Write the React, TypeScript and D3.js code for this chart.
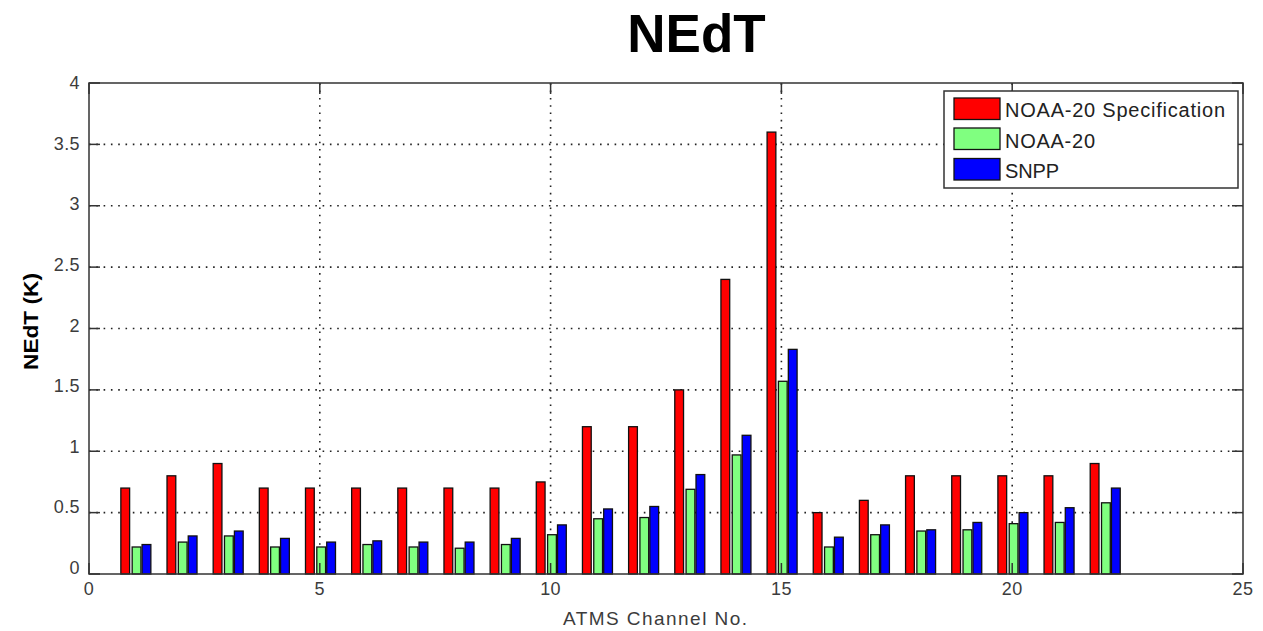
import React from "react";
import * as d3 from "d3";

// ATMS channel numbers and NEdT values (K)
const channels: number[] = [1, 2, 3, 4, 5, 6, 7, 8, 9, 10, 11, 12, 13, 14, 15, 16, 17, 18, 19, 20, 21, 22];
const specValues: number[] = [0.7, 0.8, 0.9, 0.7, 0.7, 0.7, 0.7, 0.7, 0.7, 0.75, 1.2, 1.2, 1.5, 2.4, 3.6, 0.5, 0.6, 0.8, 0.8, 0.8, 0.8, 0.9];
const noaa20Values: number[] = [0.22, 0.26, 0.31, 0.22, 0.22, 0.24, 0.22, 0.21, 0.24, 0.32, 0.45, 0.46, 0.69, 0.97, 1.57, 0.22, 0.32, 0.35, 0.36, 0.41, 0.42, 0.58];
const snppValues: number[] = [0.24, 0.31, 0.35, 0.29, 0.26, 0.27, 0.26, 0.26, 0.29, 0.4, 0.53, 0.55, 0.81, 1.13, 1.83, 0.3, 0.4, 0.36, 0.42, 0.5, 0.54, 0.7];

const seriesNames: string[] = ["NOAA-20 Specification", "NOAA-20", "SNPP"];
const seriesColors: string[] = ["#ff0000", "#80ff80", "#0000ff"];

const xTicks: number[] = [0, 5, 10, 15, 20, 25];
const yTicks: number[] = [0, 0.5, 1, 1.5, 2, 2.5, 3, 3.5, 4];

const W = 1263;
const H = 631;
const margin = { left: 89, right: 20, top: 83, bottom: 57 };
const FONT = "'Liberation Sans', Arial, sans-serif";

export default function App() {
  const x = d3.scaleLinear().domain([0, 25]).range([margin.left, W - margin.right]);
  const y = d3.scaleLinear().domain([0, 4]).range([H - margin.bottom, margin.top]);
  // tick-label positions along the y axis
  const yLab = d3.scaleLinear().domain([0, 4]).range([567.5, 83]);

  const x0 = x.range()[0];
  const x1 = x.range()[1];
  const y0 = y.range()[0];
  const y1 = y.range()[1];

  const series = [specValues, noaa20Values, snppValues];
  // bar centre offsets within each channel group (channel units)
  const offsets = [-0.215, 0.03, 0.245];
  const barW = 0.19;

  const tickLen = 11;
  const axisColor = "#333";
  const labelColor = "#3c3c3c";

  // legend layout
  const lg = { x: 944, y: 91, w: 294, h: 97 };
  const lgRows = [108.5, 138.5, 169];
  const lgBase = [116.7, 148, 178.3];
  const lgWidths = [220, 90, 54];

  return (
    <svg width={W} height={H} style={{ display: "block", position: "absolute", left: 0, top: 0, background: "#fff" }}>
      <rect x={0} y={0} width={W} height={H} fill="#fff" />
      <text x={696.5} y={52} textAnchor="middle" fontFamily={FONT} fontWeight="bold" fontSize={53} fill="#000">NEdT</text>

      {/* grid lines */}
      {yTicks.filter((t) => t > 0 && t < 4).map((t) => (
        <line key={"gy" + t} x1={x0} x2={x1} y1={y(t)} y2={y(t)} stroke="#222" strokeWidth={1.6} strokeDasharray="1.6 5.7" />
      ))}
      {xTicks.filter((t) => t > 0 && t < 25).map((t) => (
        <line key={"gx" + t} x1={x(t)} x2={x(t)} y1={y0} y2={y1} stroke="#222" strokeWidth={1.6} strokeDasharray="1.6 5.7" />
      ))}

      {/* bars */}
      {series.map((vals, si) =>
        vals.map((v, i) => {
          const c = channels[i] + offsets[si];
          const left = x(c - barW / 2);
          const right = x(c + barW / 2);
          return (
            <rect
              key={si + "-" + i}
              x={left}
              y={y(v)}
              width={right - left}
              height={y(0) - y(v)}
              fill={seriesColors[si]}
              stroke="#111"
              strokeWidth={1.3}
            />
          );
        })
      )}

      {/* axes box */}
      <rect x={x0} y={y1} width={x1 - x0} height={y0 - y1} fill="none" stroke={axisColor} strokeWidth={1.5} />

      {/* y ticks */}
      {yTicks.map((t) => (
        <g key={"yt" + t}>
          <line x1={x0} x2={x0 + tickLen} y1={y(t)} y2={y(t)} stroke={axisColor} strokeWidth={1.5} />
          <line x1={x1} x2={x1 - tickLen} y1={y(t)} y2={y(t)} stroke={axisColor} strokeWidth={1.5} />
          <text x={x0 - 9} y={yLab(t)} dy="0.35em" textAnchor="end" fontFamily={FONT} fontSize={18} letterSpacing={0.4} fill={labelColor}>{t}</text>
        </g>
      ))}

      {/* x ticks */}
      {xTicks.map((t) => (
        <g key={"xt" + t}>
          <line x1={x(t)} x2={x(t)} y1={y0} y2={y0 - tickLen} stroke={axisColor} strokeWidth={1.5} />
          <line x1={x(t)} x2={x(t)} y1={y1} y2={y1 + tickLen} stroke={axisColor} strokeWidth={1.5} />
          <text x={x(t)} y={y0 + 21} textAnchor="middle" fontFamily={FONT} fontSize={18} letterSpacing={0.4} fill={labelColor}>{t}</text>
        </g>
      ))}

      {/* axis labels */}
      <text x={563} y={625} fontFamily={FONT} fontSize={19} textLength={184} lengthAdjust="spacing" fill={labelColor}>ATMS Channel No.</text>
      <text transform={`translate(38, ${321.5}) rotate(-90)`} textAnchor="middle" fontFamily={FONT} fontWeight="bold" fontSize={20} textLength={97} lengthAdjust="spacingAndGlyphs" fill="#000">NEdT (K)</text>

      {/* legend */}
      <rect x={lg.x} y={lg.y} width={lg.w} height={lg.h} fill="#fff" stroke={axisColor} strokeWidth={1.5} />
      {seriesNames.map((name, i) => (
        <g key={"lg" + i}>
          <rect x={954} y={lgRows[i] - 10.5} width={46} height={21.5} fill={seriesColors[i]} stroke="#111" strokeWidth={1.3} />
          <text x={1005} y={lgBase[i]} fontFamily={FONT} fontSize={20} textLength={lgWidths[i]} lengthAdjust="spacing" fill="#222">{name}</text>
        </g>
      ))}
    </svg>
  );
}
